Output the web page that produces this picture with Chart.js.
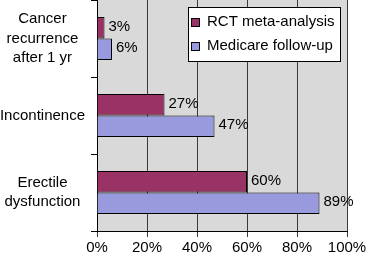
<!DOCTYPE html>
<html>
<head>
<meta charset="utf-8">
<script src="https://cdn.jsdelivr.net/npm/chart.js@4"></script>
<style>
  html, body { margin: 0; padding: 0; background: #fff; }
  #wrap { width: 368px; height: 257px; }
</style>
</head>
<body>
<div id="wrap"><canvas id="chart" width="368" height="257"></canvas></div>
<script>
// data
const categories = [['Cancer', 'recurrence', 'after 1 yr'], 'Incontinence', ['Erectile', 'dysfunction']];
const seriesNames = ['RCT meta-analysis', 'Medicare follow-up'];
const rctValues = [3, 27, 60];
const medicareValues = [6, 47, 89];
const xTicks = [0, 20, 40, 60, 80, 100];

const FONT = "'Liberation Sans', Arial, sans-serif";

// gray plot background
const plotBg = {
  id: 'plotBg',
  beforeDraw(chart) {
    const { ctx, chartArea: a } = chart;
    ctx.save();
    ctx.fillStyle = '#d9d9d9';
    ctx.fillRect(a.left, a.top, a.right - a.left, a.bottom - a.top);
    ctx.restore();
  }
};

// value labels at the bar ends
const valueLabels = {
  id: 'valueLabels',
  afterDatasetsDraw(chart) {
    const ctx = chart.ctx;
    ctx.save();
    ctx.font = '15px ' + FONT;
    ctx.fillStyle = '#000';
    ctx.textBaseline = 'middle';
    ctx.textAlign = 'left';
    chart.data.datasets.forEach((ds, i) => {
      chart.getDatasetMeta(i).data.forEach((bar, j) => {
        ctx.fillText(ds.data[j] + '%', bar.x + 4, bar.y - 1);
      });
    });
    ctx.restore();
  }
};

// boxed legend drawn inside the plot
const boxLegend = {
  id: 'boxLegend',
  afterDraw(chart) {
    const ctx = chart.ctx;
    const x = 188, y = 7, w = 152, h = 54;
    ctx.save();
    ctx.fillStyle = '#fff';
    ctx.fillRect(x, y, w, h);
    ctx.strokeStyle = '#000';
    ctx.lineWidth = 1;
    ctx.strokeRect(x + 0.5, y + 0.5, w, h);
    ctx.font = '15px ' + FONT;
    ctx.textBaseline = 'middle';
    chart.data.datasets.forEach((ds, i) => {
      const cy = y + 15 + i * 24;
      ctx.fillStyle = ds.backgroundColor;
      ctx.fillRect(x + 3, cy - 4, 8, 8);
      ctx.strokeRect(x + 3.5, cy - 3.5, 8, 8);
      ctx.fillStyle = '#000';
      ctx.fillText(ds.label, x + 19, cy);
    });
    ctx.restore();
  }
};

new Chart(document.getElementById('chart'), {
  type: 'bar',
  data: {
    labels: categories,
    datasets: [
      {
        label: seriesNames[0],
        data: rctValues,
        backgroundColor: '#993366',
        borderColor: '#000',
        borderWidth: 1,
        categoryPercentage: 0.56,
        barPercentage: 1
      },
      {
        label: seriesNames[1],
        data: medicareValues,
        backgroundColor: '#9999dd',
        borderColor: '#000',
        borderWidth: 1,
        categoryPercentage: 0.56,
        barPercentage: 1
      }
    ]
  },
  options: {
    indexAxis: 'y',
    responsive: false,
    animation: false,
    layout: { padding: { top: 0, right: 21, bottom: 0, left: 0 } },
    plugins: {
      legend: { display: false },
      tooltip: { enabled: false }
    },
    scales: {
      x: {
        min: 0,
        max: 100,
        afterBuildTicks(scale) {
          scale.ticks = xTicks.map(v => ({ value: v }));
        },
        afterFit(scale) {
          scale.height = 26;
          scale.paddingLeft = 0;
          scale.paddingRight = 0;
        },
        grid: { color: '#3a3a3a', lineWidth: 1, tickLength: 6, drawTicks: true },
        border: { color: '#000', width: 1 },
        ticks: {
          padding: 2,
          color: '#000',
          font: { family: FONT, size: 15 },
          callback: v => v + '%'
        }
      },
      y: {
        afterFit(scale) {
          scale.width = 97;
          scale.paddingTop = 0;
          scale.paddingBottom = 0;
        },
        grid: { offset: true, drawOnChartArea: false, drawTicks: true, tickLength: 6, color: '#000' },
        border: { color: '#000', width: 1 },
        ticks: {
          crossAlign: 'center',
          padding: 6,
          color: '#000',
          font: { family: FONT, size: 15, lineHeight: 1.3 }
        }
      }
    }
  },
  plugins: [plotBg, valueLabels, boxLegend]
});
</script>
</body>
</html>
